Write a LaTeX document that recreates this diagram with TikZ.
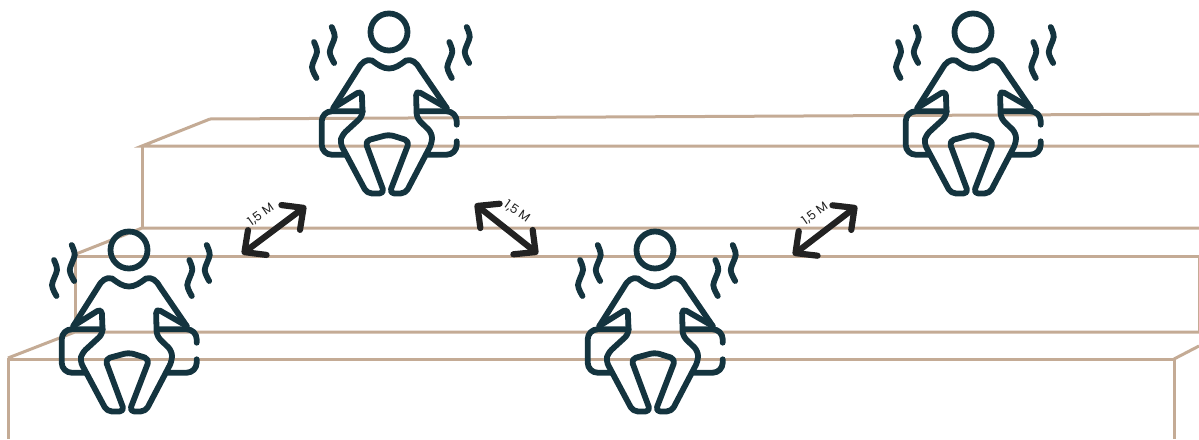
\documentclass[tikz,border=0pt]{standalone}
\usepackage{fontspec}
\setmainfont{Poppins}
\usetikzlibrary{arrows.meta}
\definecolor{stepcolor}{HTML}{C4AB95}
\definecolor{figcolor}{HTML}{14343F}
\definecolor{arrowcolor}{HTML}{222222}

\begin{document}
\begin{tikzpicture}[
	x=1pt, y=-1pt,
	% --- STYLES ---
	stepline/.style={
		draw=stepcolor, line width=3pt, line join=miter
	},
	figline/.style={
		draw=figcolor, line width=5.8pt, line cap=round, line join=round
	},
	distarrow/.style={
		draw=arrowcolor, line width=6.2pt, line cap=round,
		{Straight Barb[length=16pt, width=31pt, round]}-{Straight Barb[length=16pt, width=31pt, round]}
	},
	distlabel/.style={
		font=\fontsize{12.5}{14}\selectfont, text=arrowcolor, inner sep=0pt
	},
	heatwave/.pic={
		\draw [figline] plot [smooth] coordinates {(0,0) (3,10) (-2,25) (2.5,36)};
	},
	sitter/.pic={
		% head
		\draw [figline] (0,0) circle (18.5);
		% body and legs
		\draw [figline] (-55.7,76) -- (-31,37) .. controls (-27,30) and (-23,27) .. (-17,28.5)
			.. controls (-11,33) and (-6,36.5) .. (0,36.5)
			.. controls (6,36.5) and (11,33) .. (17,28.5)
			.. controls (23,27) and (27,30) .. (31,37) -- (57.7,76);
		\draw [figline, rounded corners=5pt] (57.7,76) -- (27,58.3) -- (27.7,86) -- (43,101) -- (43,111)
			-- (16.5,161.5) -- (0.3,161.5) -- (20.5,109) -- (0,102.5) -- (-24,109)
			-- (-4.5,161.5) -- (-22,161.5) -- (-49,111) -- (-47,103) -- (-26.3,84) -- (-27.3,58.3) -- (-55.7,76);
		% seat edges
		\draw [figline, rounded corners=10pt] (-26.3,79.3) -- (-67.3,79.3) -- (-67.3,122.7) -- (-44,122.7);
		\draw [figline, rounded corners=10pt] (29.3,79.3) -- (67.7,79.3) -- (67.7,92.7);
		\draw [figline, rounded corners=10pt] (67.7,109.3) -- (67.7,122.7) -- (39.3,122.7);
		% heat
		\pic at (-57.3,-5) {heatwave};
		\pic at (-75,10) {heatwave};
		\pic at (77.7,-5) {heatwave};
		\pic at (60.3,10) {heatwave};
	}
	]
	
	\useasboundingbox (0,0) rectangle (1199,439);
	
	% --- 1. Steps ---
	\draw [stepline] (210,119) -- (1199,114);
	\draw [stepline] (1199,146) -- (142,146) -- (210,119);
	\draw [stepline] (142,146) -- (142,228);
	\draw [stepline] (1199,228) -- (142,228) -- (76,254);
	\draw [stepline] (1199,256) -- (75,256) -- (75,332);
	\draw [stepline] (1199,256) -- (1199,332);
	\draw [stepline] (1199,332) -- (75,332) -- (8,358);
	\draw [stepline] (8,439) -- (8,359) -- (1174,359) -- (1174,439);
	\draw [stepline] (1174,359) -- (1199,346);
	
	% --- 2. People ---
	\pic at (389,32) {sitter};
	\pic at (973,32) {sitter};
	\pic at (129,250) {sitter};
	\pic at (655,250) {sitter};
	
	% --- 3. Distances ---
	\coordinate (left_low) at (242,254);
	\coordinate (left_high) at (306,206);
	\coordinate (mid_high) at (475,204);
	\coordinate (mid_low) at (538,254);
	\coordinate (right_low) at (793,255);
	\coordinate (right_high) at (857,206);
	
	\draw [distarrow] (left_low) -- (left_high);
	\draw [distarrow] (mid_high) -- (mid_low);
	\draw [distarrow] (right_low) -- (right_high);
	
	\node [distlabel, rotate=35] (left_dist) at (261,215) {1,5 M};
	\node [distlabel, rotate=-35] (mid_dist) at (517,212) {1,5 M};
	\node [distlabel, rotate=35] (right_dist) at (815,214) {1,5 M};
	
\end{tikzpicture}
\end{document}
